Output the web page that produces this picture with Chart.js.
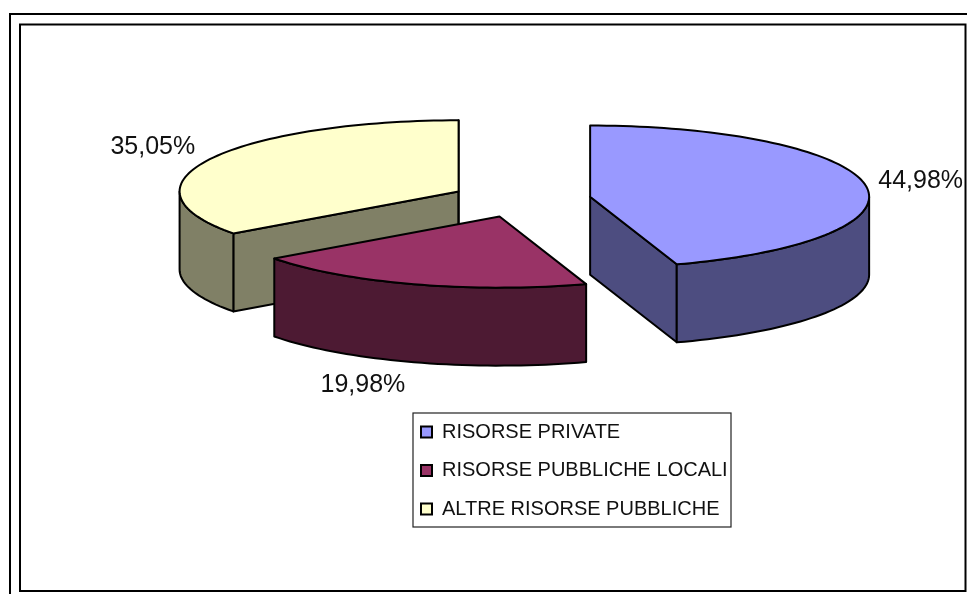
<!DOCTYPE html>
<html><head><meta charset="utf-8">
<style>html,body{margin:0;padding:0;background:#fff}#w{width:967px;height:594px;position:relative}</style>
<script src="https://cdn.jsdelivr.net/npm/chart.js@4"></script>
</head><body><div id="w"><canvas id="c" width="967" height="594"></canvas></div>
<script>
const categories = ['RISORSE PRIVATE','RISORSE PUBBLICHE LOCALI','ALTRE RISORSE PUBBLICHE'];
const values = [44.98,19.98,35.05];
const valueLabels = ['44,98%','19,98%','35,05%'];
const topColors = ['#9999FF','#993366','#FFFFCC'];
const wallColors = ['#4D4D80','#4D1A33','#808066'];

const FONT = '"Liberation Sans", Arial, sans-serif';
const TILT = 0.255, DEPTH = 78, EXPLODE = 70, RADIUS = 279;
// label anchor offsets from each slice's rim point at its mid angle
const labelNudge = [[55,-4],[-51,101],[-57,-12]];

const pie3d = {
  id:'pie3d',
  beforeDraw(chart){
    const c = chart.ctx;
    c.save();
    c.fillStyle='#fff'; c.fillRect(0,0,967,594);
    c.strokeStyle='#000'; c.lineWidth=2;
    c.strokeRect(10,14,980,600);
    c.strokeRect(20,24.5,945.5,566.5);
    c.lineWidth=1.2; c.strokeStyle='#222';
    c.strokeRect(413,413,318,114);
    c.restore();
  },
  beforeDatasetsDraw(chart){
    const c = chart.ctx, arcs = chart.getDatasetMeta(0).data;
    const proj = (a,i,ang,r)=>{
      const mid=(a.startAngle+a.endAngle)/2;
      const ux=a.x+Math.cos(mid)*EXPLODE+Math.cos(ang)*r;
      const uy=Math.sin(mid)*EXPLODE+Math.sin(ang)*r;
      return [ux,a.y+uy*TILT];
    };
    const rimPath=(a,i,from,to,dy,rev)=>{
      const n=Math.max(2,Math.ceil(Math.abs(to-from)/0.03));
      for(let k=0;k<=n;k++){
        const t=rev?to+(from-to)*k/n:from+(to-from)*k/n;
        const p=proj(a,i,t,a.outerRadius);
        c.lineTo(p[0],p[1]+dy);
      }
    };
    const face=(draw,fill)=>{c.beginPath();draw();c.closePath();c.fillStyle=fill;c.fill();c.strokeStyle='#000';c.lineWidth=2;c.lineJoin='round';c.stroke();};
    const order=[2,0,1];
    order.forEach(i=>{
      const a=arcs[i], wall=wallColors[i], top=a.options.backgroundColor;
      const C=proj(a,i,0,0);
      const S=proj(a,i,a.startAngle,a.outerRadius), E=proj(a,i,a.endAngle,a.outerRadius);
      // back-to-front: cut faces first, then the visible rim
      if(i===0){
        face(()=>{c.moveTo(C[0],C[1]);c.lineTo(E[0],E[1]);c.lineTo(E[0],E[1]+DEPTH);c.lineTo(C[0],C[1]+DEPTH);},wall);
      } else if(i===2){
        face(()=>{c.moveTo(C[0],C[1]);c.lineTo(S[0],S[1]);c.lineTo(S[0],S[1]+DEPTH);c.lineTo(C[0],C[1]+DEPTH);},wall);
        face(()=>{c.moveTo(C[0],C[1]);c.lineTo(E[0],E[1]);c.lineTo(E[0],E[1]+DEPTH);c.lineTo(C[0],C[1]+DEPTH);},wall);
      }
      // outer wall: only the part facing the viewer (screen angles 0..PI)
      const PI2=Math.PI*2;
      for(const [lo,hi] of [[0,Math.PI],[PI2,PI2+Math.PI]]){
        const f=Math.max(a.startAngle,lo), t=Math.min(a.endAngle,hi);
        if(t>f) face(()=>{rimPath(a,i,f,t,0,false);rimPath(a,i,f,t,DEPTH,true);},wall);
      }
      face(()=>{c.moveTo(C[0],C[1]);rimPath(a,i,a.startAngle,a.endAngle,0,false);},top);
    });
    // value labels
    c.save();
    c.fillStyle='#111'; c.font='25px '+FONT; c.textAlign='center'; c.textBaseline='middle';
    arcs.forEach((a,i)=>{
      const mid=(a.startAngle+a.endAngle)/2, p=proj(a,i,mid,a.outerRadius);
      c.fillText(valueLabels[i],p[0]+labelNudge[i][0],p[1]+labelNudge[i][1]);
    });
    c.restore();
    return false;
  },
  afterLayout(chart){
    const l=chart.legend; if(!l) return;
    l.left=402.5; l.right=731; l.top=403.5; l.bottom=594; l.width=328.5; l.height=190.5;
  }
};

new Chart(document.getElementById('c'),{
  type:'pie',
  data:{labels:categories,datasets:[{data:values,backgroundColor:topColors,borderColor:'#000',borderWidth:2}]},
  plugins:[pie3d],
  options:{
    responsive:false,animation:false,radius:RADIUS,
    layout:{padding:{left:75,right:0,top:0,bottom:195}},
    plugins:{
      tooltip:{enabled:false},title:{display:false},
      legend:{display:true,position:'chartArea',align:'start',
        labels:{boxWidth:11,boxHeight:11,padding:18.5,color:'#111',font:{family:FONT,size:20}}}
    }
  }
});
</script></body></html>
